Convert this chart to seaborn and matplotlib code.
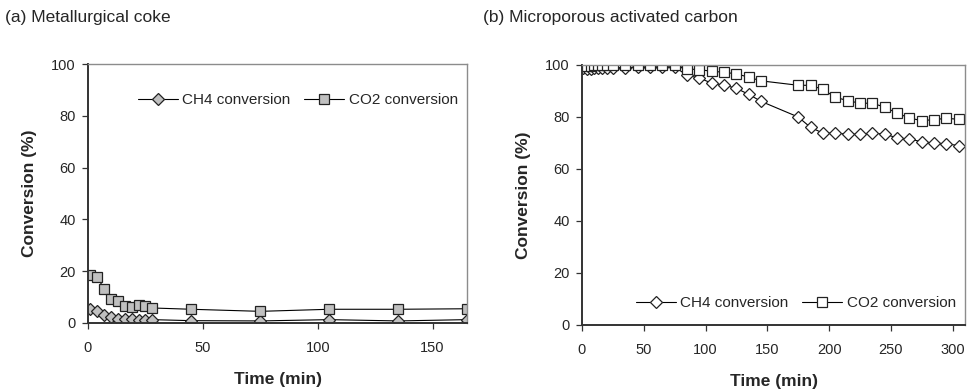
import matplotlib
matplotlib.use("Agg")
import matplotlib.pyplot as plt
import seaborn as sns
import pandas as pd

# ---- data: (a) Metallurgical coke ----
time_a = [1, 4, 7, 10, 13, 16, 19, 22, 25, 28, 45, 75, 105, 135, 165]
ch4_a = [5.5, 4.5, 3.2, 2.2, 1.7, 1.7, 1.7, 1.3, 1.3, 1.3, 0.9, 0.8, 1.3, 0.8, 1.3]
co2_a = [18.5, 17.8, 13.2, 9.3, 8.4, 6.5, 6.2, 6.8, 6.5, 5.8, 5.3, 4.5, 5.3, 5.3, 5.5]

# ---- data: (b) Microporous activated carbon ----
time_b = [1, 4, 7, 10, 13, 16, 20, 25, 35, 45, 55, 65, 75,
          85, 95, 105, 115, 125, 135, 145,
          175, 185, 195, 205, 215, 225, 235, 245, 255, 265, 275, 285, 295, 305]
ch4_b = [98.8, 98.6, 98.6, 98.7, 98.8, 98.9, 99.0, 99.0, 99.0, 99.2, 99.2, 99.3, 99.3,
         96.0, 95.0, 93.0, 92.3, 91.0, 88.7, 86.0,
         80.0, 76.0, 73.8, 73.8, 73.4, 73.4, 73.8, 73.4, 72.0, 71.5, 70.5, 70.0, 69.7, 69.0]
co2_b = [100.0, 99.8, 99.8, 99.9, 99.9, 99.9, 99.9, 100.0, 100.0, 100.0, 100.0, 100.0, 100.0,
         98.5, 98.2, 97.6, 97.2, 96.6, 95.3, 93.9,
         92.2, 92.2, 90.6, 87.6, 86.3, 85.3, 85.3, 83.8, 81.5, 79.6, 78.6, 79.0, 79.5, 79.1]

titles = ["(a) Metallurgical coke", "(b) Microporous activated carbon"]
series_labels = ["CH4 conversion", "CO2 conversion"]
xlabel = "Time (min)"
ylabel = "Conversion (%)"

sns.set_style("white")
plt.rcParams["font.family"] = ["Liberation Sans", "DejaVu Sans"]

fig = plt.figure(figsize=(9.69, 3.91), dpi=100)
ax_a = fig.add_axes([88 / 969, 68 / 391, 379 / 969, 259 / 391])
ax_b = fig.add_axes([582 / 969, 66 / 391, 383 / 969, 260 / 391])

def draw(ax, t, ch4, co2, fill, xmax, xticks, legend_loc, legend_anchor):
    df = pd.DataFrame({"t": t, "ch4": ch4, "co2": co2})
    sns.lineplot(data=df, x="t", y="ch4", ax=ax, color="black", lw=0.8,
                 marker="D", markersize=5.8, markerfacecolor=fill,
                 markeredgecolor="#222222", markeredgewidth=0.9,
                 label=series_labels[0], estimator=None, sort=False)
    sns.lineplot(data=df, x="t", y="co2", ax=ax, color="black", lw=0.8,
                 marker="s", markersize=7.6, markerfacecolor=fill,
                 markeredgecolor="#222222", markeredgewidth=0.9,
                 label=series_labels[1], estimator=None, sort=False)
    ax.set_xlim(0, xmax)
    ax.set_ylim(0, 100)
    ax.set_xticks(xticks)
    ax.set_yticks([0, 20, 40, 60, 80, 100])
    ax.set_xlabel(xlabel, fontsize=12.5, fontweight="bold", labelpad=12)
    ax.set_ylabel(ylabel, fontsize=12.5, fontweight="bold", labelpad=10)
    ax.tick_params(axis="both", labelsize=10.5, length=4, width=0.9,
                   direction="out", color="#333333", pad=5, bottom=True, left=True)
    ax.tick_params(axis="x", pad=9)
    for s in ["left", "bottom"]:
        ax.spines[s].set_color("#333333")
        ax.spines[s].set_linewidth(1.4)
    for s in ["top", "right"]:
        ax.spines[s].set_color("#8c8c8c")
        ax.spines[s].set_linewidth(1.0)
    leg = ax.legend(loc=legend_loc, bbox_to_anchor=legend_anchor, ncol=2,
                    frameon=False, fontsize=11, handlelength=2.6,
                    handletextpad=0.3, columnspacing=0.9, borderaxespad=0.2)
    return leg

draw(ax_a, time_a, ch4_a, co2_a, "#c0c0c0", 165, [0, 50, 100, 150],
     "center right", (1.0, 0.86))
draw(ax_b, time_b, ch4_b, co2_b, "white", 310, [0, 50, 100, 150, 200, 250, 300],
     "center right", (1.0, 0.085))

fig.text(5 / 969, 1 - 22 / 391, titles[0], fontsize=12.5, va="baseline", ha="left")
fig.text(483 / 969, 1 - 22 / 391, titles[1], fontsize=12.5, va="baseline", ha="left")

fig.savefig("out.png", dpi=100)
